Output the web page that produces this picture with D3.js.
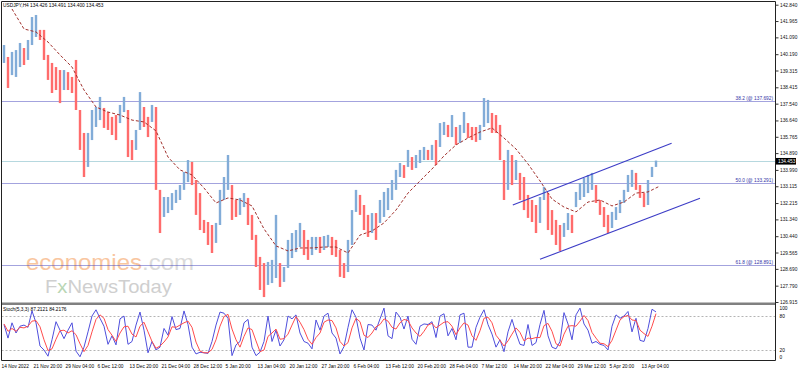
<!DOCTYPE html>
<html>
  <head>
    <title>USDJPY H4</title>
    <script src="https://d3js.org/d3.v7.min.js"></script>
    <style>
      body { margin: 0; background: #fff; }
      text { font-family: "Liberation Sans", Arial, sans-serif; }
    </style>
  </head>
  <body>
    <svg width="798" height="372"></svg>
</body>
</html>
<script>

const title = 'USDJPY,H4  134.426 134.491 134.400 134.453';
const stochTitle = 'Stoch(5,3,3) 87.2121 84.2176';
const lastPrice = 134.453;

// one entry per 4 H4 candles
const highs = [
  140.68,140.04,140.31,140.41,140.79,140.52,140.95,142.18,142.29,141.49,
  141.49,140.15,139.72,139.50,139.34,139.34,139.23,138.97,139.88,137.20,
  135.97,135.97,137.20,137.36,137.90,137.31,137.09,136.83,136.93,137.47,
  137.90,137.20,135.59,136.13,138.16,137.36,136.83,137.47,137.36,132.92,
  132.54,132.54,132.75,132.92,133.18,133.88,134.52,134.42,133.45,132.75,
  131.31,131.20,131.04,131.15,132.92,133.61,134.79,133.18,132.38,132.49,
  132.75,132.49,131.58,130.51,129.33,129.00,129.06,129.17,131.58,129.00,
  128.79,130.24,130.61,130.77,131.15,130.77,130.24,130.40,130.40,130.40,
  130.45,130.51,130.40,130.24,129.70,129.00,130.24,131.84,132.92,132.65,
  132.11,131.58,131.68,131.68,132.38,132.81,133.02,133.45,133.99,134.36,
  134.25,135.06,134.68,134.79,135.06,135.22,135.06,135.33,135.59,136.50,
  136.56,136.40,136.93,136.29,136.40,137.09,136.50,136.29,136.29,136.40,
  137.84,137.74,137.04,136.93,136.40,134.52,135.06,134.79,134.52,133.83,
  133.61,132.65,132.38,132.11,132.54,133.08,132.75,131.84,131.31,131.04,
  131.15,131.68,131.58,132.81,133.29,133.56,133.72,133.83,133.18,132.38,
  132.00,131.58,131.74,132.00,132.38,132.92,133.72,133.99,133.83,133.18,
  132.75,133.45,134.15,134.49
];
const lows = [
  139.72,138.38,139.07,138.97,139.50,139.61,139.88,140.68,141.11,140.95,
  139.88,138.81,138.11,138.27,137.57,138.27,138.27,138.11,137.20,135.06,
  133.61,134.15,135.59,136.29,136.66,136.24,136.13,135.86,135.59,136.50,
  137.09,134.68,134.52,135.06,136.13,136.29,135.75,136.56,132.92,130.61,
  131.47,131.68,131.84,132.22,132.38,132.92,133.34,133.18,131.58,130.77,
  130.61,129.97,129.54,130.08,131.04,132.38,132.92,131.31,131.47,131.58,
  132.00,131.04,130.24,128.79,127.56,127.18,127.83,127.93,128.20,127.72,
  127.99,128.74,129.27,129.59,129.86,129.43,129.17,129.43,129.70,129.54,
  129.70,129.86,129.43,129.33,128.26,128.20,128.52,129.97,131.74,131.58,
  130.77,130.40,130.61,130.24,131.15,131.47,131.84,132.38,132.92,133.61,
  133.56,134.15,133.99,134.09,134.36,134.52,134.52,134.52,134.25,135.22,
  135.86,135.75,135.75,135.33,135.43,135.97,135.70,135.59,135.49,135.59,
  136.29,136.50,135.97,135.97,134.52,132.38,132.92,133.18,133.45,132.38,
  131.84,131.42,131.20,130.61,131.15,132.38,130.77,130.51,129.97,129.65,
  130.40,130.77,130.61,132.00,132.38,132.54,132.75,132.92,132.22,131.58,
  130.93,130.61,130.88,131.31,131.68,132.22,132.81,133.08,132.92,132.49,
  132.00,132.11,133.61,134.15
];

// moving average, one value every 3rd entry starting at entry 2
const maStart = 2, maEvery = 3;
const maValues = [
  142.61,141.54,141.38,140.84,140.15,139.50,138.27,137.36,137.09,136.93,
  136.66,136.56,136.08,134.68,133.99,133.72,133.02,132.22,132.49,132.38,
  132.06,130.83,129.92,129.65,129.81,129.81,129.86,129.86,129.54,130.50,
  130.72,131.15,131.84,132.75,133.40,134.04,134.74,135.33,135.70,136.02,
  136.24,135.70,135.11,134.31,133.40,132.43,132.00,131.74,132.27,132.38,
  132.06,132.27,132.75,132.81,133.13
];

const stochK = [
  65,41,68,50,62,64,60,89,68,27, 20,9,38,70,55,40,55,68,18,8,
  25,52,80,91,76,62,30,45,29,75, 80,30,35,64,87,55,15,35,20,25,
  58,46,79,56,58,89,65,25,13,16, 15,14,35,64,87,85,76,10,29,35,
  68,74,25,10,16,35,80,35,55,27, 38,80,75,82,50,35,32,22,73,55,
  80,85,50,41,13,26,60,91,78,41, 20,65,64,55,75,94,45,40,87,78,
  57,80,39,30,62,66,65,70,42,80, 84,45,58,38,82,85,25,25,60,78,
  91,65,48,25,38,17,52,74,50,30, 28,65,28,33,65,90,45,25,22,35,
  86,66,38,82,94,66,55,32,35,30, 28,20,62,82,76,80,88,52,76,37,
  35,58,92,87.2
];
const stochD = [
  66,53,58,53,60,59,62,71,72,61, 38,19,22,39,54,55,50,54,47,31,
  17,28,52,74,82,76,56,46,35,50, 61,62,48,43,62,69,52,35,23,27,
  34,43,61,60,64,68,71,60,34,18, 15,15,21,38,62,79,83,57,38,25,
  44,59,56,36,17,20,44,50,57,39, 40,48,64,79,69,56,39,30,42,50,
  69,73,72,59,35,27,33,59,76,70, 46,42,50,61,65,75,71,60,57,68,
  74,72,59,50,44,53,64,67,59,64, 69,70,62,47,59,68,64,45,37,54,
  76,78,68,46,37,27,36,48,59,51, 36,41,40,42,42,63,67,53,31,27,
  48,62,63,62,71,81,72,51,41,32, 31,26,37,55,73,79,81,73,72,55,
  49,44,62,84.2
];

const fibLevels = ['38.2', '50.0', '61.8'];
const fibPrices = [137.692, 133.291, 128.891];

// channel end points as [entry, price]
const channelTop = [[127.2, 132.11], [166.9, 135.42]];
const channelBottom = [[134, 129.20], [174, 132.47]];

const priceTicks = [142.840, 141.965, 141.090, 140.190, 139.315, 138.415, 137.540,
  136.640, 135.765, 134.890, 133.990, 133.115, 132.215, 131.340, 130.440, 129.565,
  128.690, 127.790, 126.915];
const stochTicks = [100, 80, 20, 0];
const timeLabels = ['14 Nov 2022', '21 Nov 20:00', '29 Nov 04:00', '6 Dec 12:00',
  '13 Dec 20:00', '21 Dec 04:00', '28 Dec 12:00', '5 Jan 20:00', '13 Jan 04:00',
  '20 Jan 12:00', '27 Jan 20:00', '6 Feb 04:00', '13 Feb 12:00', '20 Feb 20:00',
  '28 Feb 04:00', '7 Mar 12:00', '14 Mar 20:00', '22 Mar 04:00', '29 Mar 12:00',
  '5 Apr 20:00', '13 Apr 04:00'];
const labelEvery = 8;

const svg = d3.select('svg');
const fs = 4.8;
const crisp = v => Math.round(v) + 0.5;

const x = d3.scaleLinear().domain([0, 192.75]).range([4, 775]);
const y = d3.scaleLinear().domain([126.915, 142.840]).range([302, 4.7]);
const ys = d3.scaleLinear().domain([0, 100]).range([361.3, 304.7]);

const defs = svg.append('defs');
defs.append('clipPath').attr('id', 'clipMain')
  .append('rect').attr('x', 1.5).attr('y', 1.5).attr('width', 774).attr('height', 301);
defs.append('clipPath').attr('id', 'clipStoch')
  .append('rect').attr('x', 1.5).attr('y', 305).attr('width', 774).attr('height', 55);

const main = svg.append('g').attr('clip-path', 'url(#clipMain)');
const sub = svg.append('g').attr('clip-path', 'url(#clipStoch)');

// watermark
const wm = main.append('g');
const eco = wm.append('text')
  .attr('x', 26).attr('y', 270)
  .attr('textLength', 168).attr('lengthAdjust', 'spacingAndGlyphs')
  .style('font-size', '22.5px');
eco.append('tspan').attr('fill', '#f9c6a0').text('economies');
eco.append('tspan').attr('fill', '#dadada').text('.com');
const fx = wm.append('text')
  .attr('x', 45).attr('y', 292.5)
  .attr('textLength', 127).attr('lengthAdjust', 'spacingAndGlyphs')
  .style('font-size', '19px')
  .attr('fill', '#cfcfcf');
fx.append('tspan').text('F');
fx.append('tspan').attr('fill', '#b9d6b4').text('x');
fx.append('tspan').text('NewsToday');

// fibonacci levels
fibPrices.forEach((p, k) => {
  main.append('line')
    .attr('x1', 1.5).attr('x2', 775)
    .attr('y1', crisp(y(p))).attr('y2', crisp(y(p)))
    .style('stroke', '#4646bd')
    .style('stroke-dasharray', '1,1');
  main.append('text')
    .attr('x', 773).attr('y', crisp(y(p)) - 1.5)
    .attr('text-anchor', 'end')
    .style('font-size', fs + 'px')
    .attr('fill', '#3434a6')
    .text(`${fibLevels[k]} (@ ${p.toFixed(3)})`);
});

// last price line
main.append('line')
  .attr('x1', 1.5).attr('x2', 775)
  .attr('y1', crisp(y(lastPrice))).attr('y2', crisp(y(lastPrice)))
  .style('stroke', '#b6d8df');

// candles
const bars = highs.map((h, i) => ({ i, h, l: lows[i], mid: (h + lows[i]) / 2 }));
main.selectAll('rect.bar')
  .data(bars)
  .enter()
  .append('rect')
  .classed('bar', true)
  .attr('x', d => x(d.i) - 1.2)
  .attr('width', 2.4)
  .attr('y', d => y(d.h))
  .attr('height', d => Math.max(1, y(d.l) - y(d.h)))
  .style('fill', (d, i) => i > 0 && d.mid < bars[i - 1].mid ? '#ff6c6c' : '#82acd8');

// moving average
main.append('path')
  .datum(maValues)
  .attr('d', d3.line().x((v, k) => x(maStart + k * maEvery)).y(v => y(v)))
  .style('fill', 'none')
  .style('stroke', '#a0302c')
  .style('stroke-width', 1)
  .style('stroke-dasharray', '3,2');

// channel
[channelTop, channelBottom].forEach(c => {
  main.append('line')
    .attr('x1', x(c[0][0])).attr('y1', y(c[0][1]))
    .attr('x2', x(c[1][0])).attr('y2', y(c[1][1]))
    .style('stroke', '#3c3cc6')
    .style('stroke-width', 1.1);
});

main.append('text')
  .attr('x', 3).attr('y', 6.8)
  .style('font-size', fs + 'px')
  .attr('fill', '#000')
  .text(title);

// stochastic
[80, 20].forEach(v => {
  sub.append('line')
    .attr('x1', 1.5).attr('x2', 775)
    .attr('y1', crisp(ys(v))).attr('y2', crisp(ys(v)))
    .style('stroke', '#b4b4b4')
    .style('stroke-dasharray', '2,2');
});
const sline = d3.line().x((v, i) => x(i)).y(v => ys(v));
sub.append('path').datum(stochK).attr('d', sline)
  .style('fill', 'none').style('stroke', '#4f4fdc').style('stroke-width', 1);
sub.append('path').datum(stochD).attr('d', sline)
  .style('fill', 'none').style('stroke', '#ff4c4c').style('stroke-width', 1);
sub.append('text')
  .attr('x', 3).attr('y', 310.5)
  .style('font-size', fs + 'px')
  .text(stochTitle);

// frame
svg.append('rect')
  .attr('x', 1).attr('y', 302.5)
  .attr('width', 775).attr('height', 2.5)
  .style('fill', '#808080');
svg.append('path')
  .attr('d', 'M1.5,360.5V1.5H775.5V360.5H1.5')
  .style('fill', 'none')
  .style('stroke', '#222');

// price axis
const yAxis = d3.axisRight(y)
  .tickValues(priceTicks)
  .tickSize(3)
  .tickPadding(1.5)
  .tickFormat(d3.format('.3f'));
const ya = svg.append('g').attr('transform', 'translate(775.5,0)').call(yAxis);
ya.select('.domain').remove();
ya.selectAll('text').style('font-size', fs + 'px').attr('fill', '#111')
  .style('font-family', '"Liberation Sans", Arial, sans-serif');
ya.selectAll('line').style('stroke', '#333');

// stoch axis
svg.selectAll('text.stick')
  .data(stochTicks)
  .enter()
  .append('text')
  .classed('stick', true)
  .attr('x', 779.5)
  .attr('y', d => Math.min(Math.max(ys(d), 308), 357) + 1.7)
  .style('font-size', fs + 'px')
  .text(d => d);

// last price tag
svg.append('rect')
  .attr('x', 776).attr('y', y(lastPrice) - 3.3)
  .attr('width', 20).attr('height', 6.6)
  .style('fill', '#000');
svg.append('text')
  .attr('x', 778).attr('y', y(lastPrice) + 1.7)
  .style('font-size', fs + 'px')
  .attr('fill', '#fff')
  .text(lastPrice.toFixed(3));

// time labels
svg.selectAll('text.tlabel')
  .data(timeLabels)
  .enter()
  .append('text')
  .classed('tlabel', true)
  .attr('x', (d, k) => x(k * labelEvery - 0.6))
  .attr('y', 367.5)
  .style('font-size', fs + 'px')
  .text(d => d);

</script>
